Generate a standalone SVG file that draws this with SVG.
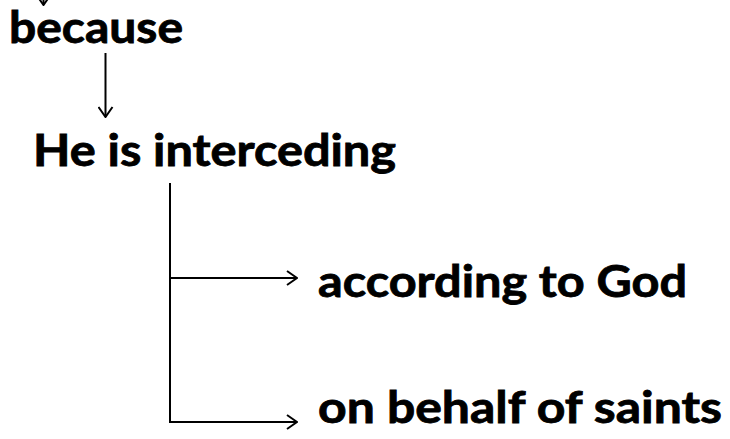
<svg xmlns="http://www.w3.org/2000/svg" width="730" height="439" viewBox="0 0 730 439">
<defs>
<marker id="arr" viewBox="0 0 12 16" refX="11" refY="8" markerWidth="12" markerHeight="16" markerUnits="userSpaceOnUse" orient="auto">
<polyline points="1,1 11,8 1,15" fill="none" stroke="#000" stroke-width="2"/>
</marker>
<style>
.t{font-family:Lato,"Open Sans","Liberation Sans",sans-serif;font-weight:bold;font-size:43px;fill:#000;stroke:#000;stroke-width:0.8}
.c{stroke:#000;stroke-width:2;fill:none}
</style>
</defs>
<rect width="730" height="439" fill="#fff"/>
<g id="connectors">
<line class="c" x1="43.5" y1="-10" x2="43.5" y2="5" marker-end="url(#arr)"/>
<line class="c" x1="105.5" y1="53" x2="105.5" y2="117" marker-end="url(#arr)"/>
<polyline class="c" points="170,183 170,422 297,422" marker-end="url(#arr)"/>
<line class="c" x1="170" y1="278" x2="297" y2="278" marker-end="url(#arr)"/>
</g>
<g id="because"><text class="t" x="9" y="43" textLength="174" lengthAdjust="spacingAndGlyphs">because</text></g>
<g id="interceding"><text class="t" x="33" y="166" textLength="363" lengthAdjust="spacingAndGlyphs">He is interceding</text></g>
<g id="according"><text class="t" x="318" y="297" textLength="369" lengthAdjust="spacingAndGlyphs">according to God</text></g>
<g id="behalf"><text class="t" x="318" y="423" textLength="404" lengthAdjust="spacingAndGlyphs">on behalf of saints</text></g>
</svg>
